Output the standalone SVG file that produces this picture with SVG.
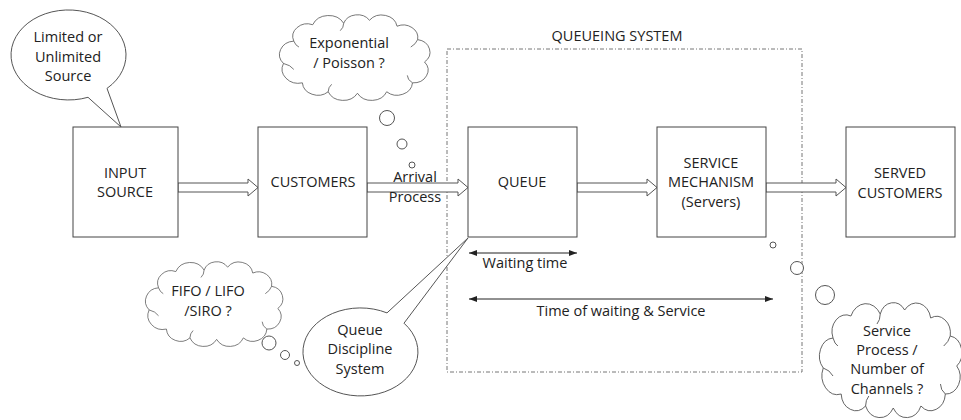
<svg xmlns="http://www.w3.org/2000/svg" width="961" height="420" viewBox="0 0 961 420">
  <style>
    .box { fill: #ffffff; stroke: #444444; stroke-width: 1; }
    .shape { fill: #ffffff; stroke: #555555; stroke-width: 1; }
    .cloud { fill: #ffffff; stroke: #555555; stroke-width: 1; vector-effect: non-scaling-stroke; }
    .crease { fill: none; stroke: #555555; stroke-width: 1; vector-effect: non-scaling-stroke; }
    .sys { fill: none; stroke: #777777; stroke-width: 1; stroke-dasharray: 4 2 1 2; }
    .block { fill: #ffffff; stroke: #555555; stroke-width: 1; }
    .dim { fill: none; stroke: #222222; stroke-width: 1; }
    text { font-family: "Open Sans", "Liberation Sans", sans-serif; font-size: 14.5px; fill: #222222; text-anchor: middle; }
  </style>
  <defs>
    <marker id="ah" viewBox="0 0 8 6" refX="8" refY="3" markerWidth="8" markerHeight="6" markerUnits="userSpaceOnUse" orient="auto-start-reverse">
      <path d="M0 0 L8 3 L0 6 Z" fill="#222222"/>
    </marker>
    <path id="cloudShape" d="M -70 -22 A 17 17 0 0 1 -48 -44 A 20 20 0 0 1 -12 -46 A 17 17 0 0 1 18 -50 A 18 18 0 0 1 50 -42 A 17 17 0 0 1 74 -24 A 17 17 0 0 1 82 6 A 17 17 0 0 1 68 34 A 18 18 0 0 1 38 46 A 19 19 0 0 1 4 48 A 19 19 0 0 1 -30 46 A 18 18 0 0 1 -60 34 A 19 19 0 0 1 -82 8 A 18 18 0 0 1 -70 -22 Z"/>
    <path id="cloudCreases" d="M -82 8 Q -74 10 -70 16 M -12 -46 Q -12 -40 -16 -36 M 74 -24 Q 72 -18 66 -14 M 68 34 Q 62 30 62 24 M -30 46 Q -30 40 -26 36 M -70 -22 Q -68 -16 -64 -14"/>
  </defs>

  <!-- Queueing system boundary -->
  <g id="queueing-system">
    <rect class="sys" x="447" y="49" width="355" height="323"/>
    <text x="617" y="41">QUEUEING SYSTEM</text>
  </g>

  <!-- Connectors -->
  <g id="connectors">
    <path class="block" d="M178 183 H248 V179 L258 187.5 L248 196 V192 H178 Z"/>
    <path class="block" d="M367 183 H458 V179 L468 187.5 L458 196 V192 H367 Z"/>
    <path class="block" d="M577 183 H647 V179 L657 187.5 L647 196 V192 H577 Z"/>
    <path class="block" d="M766 183 H836 V179 L846 187.5 L836 196 V192 H766 Z"/>
    <line class="dim" x1="469" y1="253" x2="577" y2="253" marker-start="url(#ah)" marker-end="url(#ah)"/>
    <line class="dim" x1="469" y1="299" x2="773" y2="299" marker-start="url(#ah)" marker-end="url(#ah)"/>
    <text x="415" y="182">Arrival</text>
    <text x="415" y="202">Process</text>
    <text x="525" y="268">Waiting time</text>
    <text x="621" y="316">Time of waiting &amp; Service</text>
  </g>

  <!-- Nodes -->
  <g id="input-source">
    <rect class="box" x="73" y="127" width="105" height="110"/>
    <text x="125" y="178">INPUT</text>
    <text x="125" y="197">SOURCE</text>
  </g>
  <g id="customers">
    <rect class="box" x="258" y="127" width="109" height="110"/>
    <text x="313" y="187">CUSTOMERS</text>
  </g>
  <g id="queue">
    <rect class="box" x="468" y="127" width="109" height="110"/>
    <text x="522" y="187">QUEUE</text>
  </g>
  <g id="service-mechanism">
    <rect class="box" x="657" y="127" width="109" height="110"/>
    <text x="711" y="168">SERVICE</text>
    <text x="711" y="187">MECHANISM</text>
    <text x="711" y="207">(Servers)</text>
  </g>
  <g id="served-customers">
    <rect class="box" x="846" y="127" width="109" height="110"/>
    <text x="900" y="178">SERVED</text>
    <text x="900" y="198">CUSTOMERS</text>
  </g>

  <!-- Callouts -->
  <g id="callout-source">
    <path class="shape" d="M107 88.4 A57.5 45 0 1 0 88 97.3 L121 127 Z"/>
    <text x="68" y="42">Limited or</text>
    <text x="68" y="62">Unlimited</text>
    <text x="68" y="81">Source</text>
  </g>
  <g id="callout-discipline">
    <path class="shape" d="M387 312.9 L468 238 L404 323.2 A57.5 44 0 1 1 387 312.9 Z"/>
    <text x="360" y="335">Queue</text>
    <text x="360" y="354">Discipline</text>
    <text x="360" y="374">System</text>
  </g>
  <g id="thought-arrival">
    <g transform="translate(354 57.5) scale(0.86 0.745)">
      <use href="#cloudShape" class="cloud"/>
      <use href="#cloudCreases" class="crease"/>
    </g>
    <circle class="shape" cx="387" cy="118" r="7.5"/>
    <circle class="shape" cx="402" cy="144" r="5"/>
    <circle class="shape" cx="412" cy="165" r="3"/>
    <text x="349" y="48">Exponential</text>
    <text x="349" y="68">/ Poisson ?</text>
  </g>
  <g id="thought-discipline">
    <g transform="translate(213.5 304) scale(0.785 0.737)">
      <use href="#cloudShape" class="cloud"/>
      <use href="#cloudCreases" class="crease"/>
    </g>
    <circle class="shape" cx="269" cy="343" r="7"/>
    <circle class="shape" cx="285" cy="355" r="4.5"/>
    <circle class="shape" cx="297" cy="363" r="2.5"/>
    <text x="208" y="296">FIFO / LIFO</text>
    <text x="208" y="316">/SIRO ?</text>
  </g>
  <g id="thought-service">
    <g transform="translate(890 360) scale(0.814 1.0)">
      <use href="#cloudShape" class="cloud"/>
      <use href="#cloudCreases" class="crease"/>
    </g>
    <circle class="shape" cx="773" cy="245" r="3"/>
    <circle class="shape" cx="797" cy="268" r="6.5"/>
    <circle class="shape" cx="825" cy="295" r="9.5"/>
    <text x="887" y="336">Service</text>
    <text x="887" y="355">Process /</text>
    <text x="887" y="374">Number of</text>
    <text x="887" y="394">Channels ?</text>
  </g>
</svg>
